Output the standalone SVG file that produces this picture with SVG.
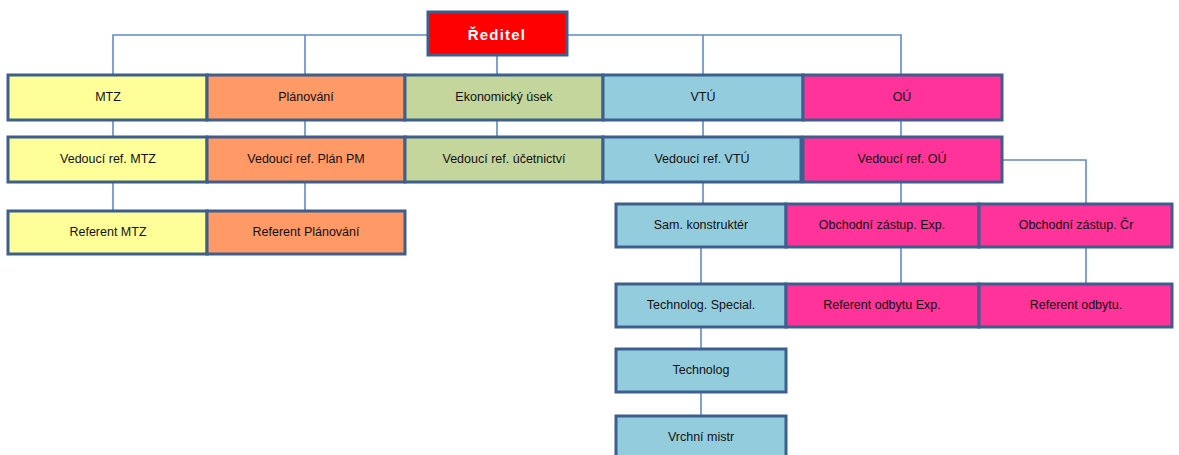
<svg xmlns="http://www.w3.org/2000/svg" width="1179" height="455" viewBox="0 0 1179 455">
<style>
.b{stroke:#3D5F8E;stroke-width:3}
.t{font-family:"Liberation Sans",Arial,sans-serif;font-size:12.5px;fill:#111;text-anchor:middle;dominant-baseline:central}
.c{fill:none;stroke:#5F8CC6;stroke-width:1.6}
.y{fill:#FFFF99}.o{fill:#FF9966}.g{fill:#C4D69B}.l{fill:#93CDDD}.p{fill:#FF3399}.r{fill:#FF0000}
</style>
<rect width="1179" height="455" fill="#fff"/>
<g id="connectors">
<path class="c" d="M113 75V35H428M567 35H901V75M305 35V75M703 35V75M497 55V75"/>
<path class="c" d="M113 120V137M305 120V137M497 120V137M703 120V137M901 120V137"/>
<path class="c" d="M113 182V211M305 182V211"/>
<path class="c" d="M703 182V204M901 182V204M1002 160H1086V204"/>
<path class="c" d="M701 247V284M901 247V284M1086 247V284"/>
<path class="c" d="M701 327V349M701 392V416"/>
</g>
<g id="reditel"><rect class="b r" x="428" y="12" width="139" height="43"/><text class="t" x="497" y="34" style="fill:#fff;font-weight:bold;font-size:15px;letter-spacing:1.2px">Ředitel</text></g>
<g id="mtz"><rect class="b y" x="8" y="75" width="199" height="45"/><text class="t" x="108" y="97">MTZ</text></g>
<g id="planovani"><rect class="b o" x="207" y="75" width="198" height="45"/><text class="t" x="306" y="97">Plánování</text></g>
<g id="ekonomicky"><rect class="b g" x="405" y="75" width="198" height="45"/><text class="t" x="504" y="97">Ekonomický úsek</text></g>
<g id="vtu"><rect class="b l" x="603" y="75" width="200" height="45"/><text class="t" x="703" y="97">VTÚ</text></g>
<g id="ou"><rect class="b p" x="803" y="75" width="199" height="45"/><text class="t" x="902" y="97">OÚ</text></g>
<g id="ved-mtz"><rect class="b y" x="8" y="137" width="199" height="45"/><text class="t" x="108" y="159">Vedoucí ref. MTZ</text></g>
<g id="ved-plan"><rect class="b o" x="207" y="137" width="198" height="45"/><text class="t" x="306" y="159">Vedoucí ref. Plán PM</text></g>
<g id="ved-uc"><rect class="b g" x="405" y="137" width="198" height="45"/><text class="t" x="504" y="159">Vedoucí ref. účetnictví</text></g>
<g id="ved-vtu"><rect class="b l" x="603" y="137" width="198" height="45"/><text class="t" x="702" y="159">Vedoucí ref. VTÚ</text></g>
<g id="ved-ou"><rect class="b p" x="803" y="137" width="199" height="45"/><text class="t" x="902" y="159">Vedoucí ref. OÚ</text></g>
<g id="ref-mtz"><rect class="b y" x="8" y="211" width="199" height="43"/><text class="t" x="108" y="232">Referent MTZ</text></g>
<g id="ref-plan"><rect class="b o" x="207" y="211" width="198" height="43"/><text class="t" x="306" y="232">Referent Plánování</text></g>
<g id="sam"><rect class="b l" x="616" y="204" width="170" height="43"/><text class="t" x="701" y="225">Sam. konstruktér</text></g>
<g id="obch-exp"><rect class="b p" x="786" y="204" width="193" height="43"/><text class="t" x="882" y="225">Obchodní zástup. Exp.</text></g>
<g id="obch-cr"><rect class="b p" x="979" y="204" width="193" height="43"/><text class="t" x="1076" y="225">Obchodní zástup. Čr</text></g>
<g id="tech-spec"><rect class="b l" x="616" y="284" width="170" height="43"/><text class="t" x="701" y="305">Technolog. Special.</text></g>
<g id="ref-odb-exp"><rect class="b p" x="786" y="284" width="193" height="43"/><text class="t" x="882" y="305">Referent odbytu Exp.</text></g>
<g id="ref-odb"><rect class="b p" x="979" y="284" width="193" height="43"/><text class="t" x="1076" y="305">Referent odbytu.</text></g>
<g id="technolog"><rect class="b l" x="616" y="349" width="170" height="43"/><text class="t" x="701" y="370">Technolog</text></g>
<g id="vrchni"><rect class="b l" x="616" y="416" width="170" height="43"/><text class="t" x="701" y="437">Vrchní mistr</text></g>
</svg>
